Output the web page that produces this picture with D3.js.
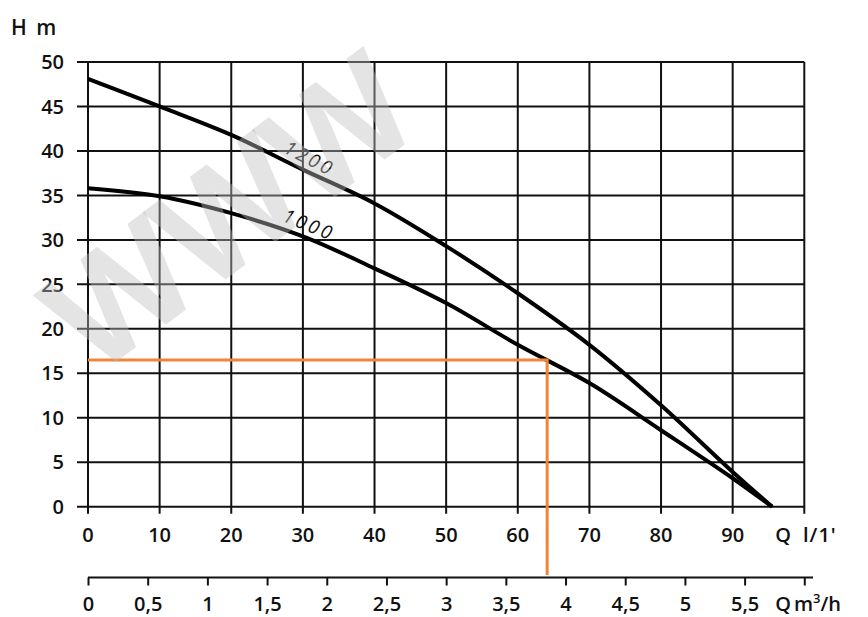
<!DOCTYPE html>
<html>
<head>
<meta charset="utf-8">
<script src="https://cdn.jsdelivr.net/npm/d3@7"></script>
<style>
  html, body { margin: 0; padding: 0; background: #fff; }
  svg { display: block; }
  text { font-family: "Open Sans", "DejaVu Sans", sans-serif; fill: #111; }
</style>
</head>
<body>
<svg id="chart" width="868" height="617"></svg>
<script>
// ---- data ----
const flowLpm = [0, 10, 20, 30, 40, 50, 60, 70, 80, 90, 95.5];
const head1200 = [48.1, 45.0, 41.8, 37.9, 34.1, 29.3, 24.0, 18.2, 11.4, 3.9, 0];
const head1000 = [35.8, 34.9, 33.0, 30.4, 26.8, 22.9, 18.2, 13.9, 8.6, 3.2, 0];
const seriesNames = ["1200", "1000"];
const xTicksLpm = [0, 10, 20, 30, 40, 50, 60, 70, 80, 90];
const xGridLpm = [0, 10, 20, 30, 40, 50, 60, 70, 80, 90, 100];
const yTicks = [0, 5, 10, 15, 20, 25, 30, 35, 40, 45, 50];
const m3hTicks = [0, 0.5, 1, 1.5, 2, 2.5, 3, 3.5, 4, 4.5, 5, 5.5, 6];
const m3hLabels = ["0", "0,5", "1", "1,5", "2", "2,5", "3", "3,5", "4", "4,5", "5", "5,5", ""];
const dutyPoint = { q: 64.1, h: 16.5 };
const labelAt = [{ q: 30.5, dy: -7, angle: 27 }, { q: 30.5, dy: -7, angle: 22 }];
const watermarkLetters = ["W", "W", "W"];

// ---- scales ----
const svg = d3.select("#chart");
const x = d3.scaleLinear().domain([0, 100]).range([88, 804.3]);
const y = d3.scaleLinear().domain([0, 50]).range([506.7, 62]);
const xm = d3.scaleLinear().domain([0, 6]).range([88, 804.3]);
const FS = 20;

const grid = svg.append("g").attr("stroke", "#111").attr("stroke-width", 2);
grid.selectAll("line.h").data(yTicks).join("line")
  .attr("x1", 77).attr("x2", x(100))
  .attr("y1", d => y(d)).attr("y2", d => y(d));
grid.selectAll("line.v").data(xGridLpm).join("line")
  .attr("x1", d => x(d)).attr("x2", d => x(d))
  .attr("y1", y(50)).attr("y2", y(0) + 7);

// y labels
svg.append("g").selectAll("text").data(yTicks).join("text")
  .attr("x", 64).attr("y", d => y(d)).attr("dy", "0.36em")
  .attr("text-anchor", "end").attr("font-size", FS).attr("font-weight", 600).text(d => d);

svg.append("text").attr("x", 11).attr("y", 35).attr("font-size", 21).attr("font-weight", 600)
  .attr("word-spacing", 4).text("H m");

// top x labels (l/min)
svg.append("g").selectAll("text").data(xTicksLpm).join("text")
  .attr("x", d => x(d)).attr("y", 535).attr("dy", "0.36em")
  .attr("text-anchor", "middle").attr("font-size", FS).attr("font-weight", 600).text(d => d);
svg.append("text").attr("x", 783).attr("y", 535).attr("dy", "0.36em")
  .attr("text-anchor", "middle").attr("font-size", FS).attr("font-weight", 600).text("Q");
svg.append("text").attr("x", 803).attr("y", 535).attr("dy", "0.36em")
  .attr("font-size", FS).attr("font-weight", 600).attr("letter-spacing", 1).text("l/1'");

// bottom m3/h axis
const axisM = d3.axisBottom(xm).tickValues(m3hTicks).tickSize(8).tickSizeOuter(0)
  .tickFormat((d, i) => m3hLabels[i]);
const gM = svg.append("g").attr("transform", "translate(0,577.5)").call(axisM);
gM.select(".domain").attr("d", `M${xm(0)},0H813`).attr("stroke", "#111").attr("stroke-width", 2);
gM.selectAll(".tick line").attr("stroke", "#111").attr("stroke-width", 2);
gM.selectAll(".tick text").attr("font-size", FS).attr("font-weight", 600)
  .attr("font-family", "Open Sans, DejaVu Sans, sans-serif")
  .attr("fill", "#111").attr("y", 26.5).attr("dy", "0.36em");
svg.append("text").attr("x", 783).attr("y", 604).attr("dy", "0.36em")
  .attr("text-anchor", "middle").attr("font-size", FS).attr("font-weight", 600).text("Q");
const mt = svg.append("text").attr("x", 794).attr("y", 604).attr("dy", "0.36em")
  .attr("font-size", FS).attr("font-weight", 600);
mt.append("tspan").text("m");
mt.append("tspan").attr("font-size", 13).attr("dy", "-0.6em").text("3");
mt.append("tspan").attr("dy", "0.4em").text("/h");

// curves
const line = d3.line().x(d => x(d[0])).y(d => y(d[1])).curve(d3.curveCatmullRom.alpha(0.5));
const allSeries = [head1200, head1000];
svg.append("g").selectAll("path").data(allSeries).join("path")
  .attr("d", s => line(flowLpm.map((q, i) => [q, s[i]])))
  .attr("fill", "none").attr("stroke", "#000").attr("stroke-width", 4);

// curve labels
allSeries.forEach((s, i) => {
  const q = labelAt[i].q;
  const h = d3.scaleLinear().domain(flowLpm).range(s)(q);
  svg.append("text")
    .attr("transform", `translate(${x(q)},${y(h) + labelAt[i].dy}) rotate(${labelAt[i].angle})`)
    .attr("text-anchor", "middle").attr("font-size", 19).attr("font-style", "italic")
    .attr("letter-spacing", 3).text(seriesNames[i]);
});

// duty point lines
svg.append("path")
  .attr("d", `M${x(0)},${y(dutyPoint.h)}H${x(dutyPoint.q)}V575`)
  .attr("fill", "none").attr("stroke", "#ef8535").attr("stroke-width", 3);

// watermark (semi-transparent, on top)
const wmStep = 137, wmAng = -37, wmRad = wmAng * Math.PI / 180;
svg.append("g").selectAll("text").data(watermarkLetters).join("text")
  .attr("transform", (d, i) =>
    `translate(${95 + i * wmStep * Math.cos(wmRad)},${378 + i * wmStep * Math.sin(wmRad)}) rotate(${wmAng})`)
  .attr("font-family", "Liberation Sans, Arial, sans-serif")
  .attr("font-size", 145).attr("font-weight", "bold")
  .style("fill", "rgba(190,190,190,0.42)").text(d => d);
</script>
</body>
</html>
